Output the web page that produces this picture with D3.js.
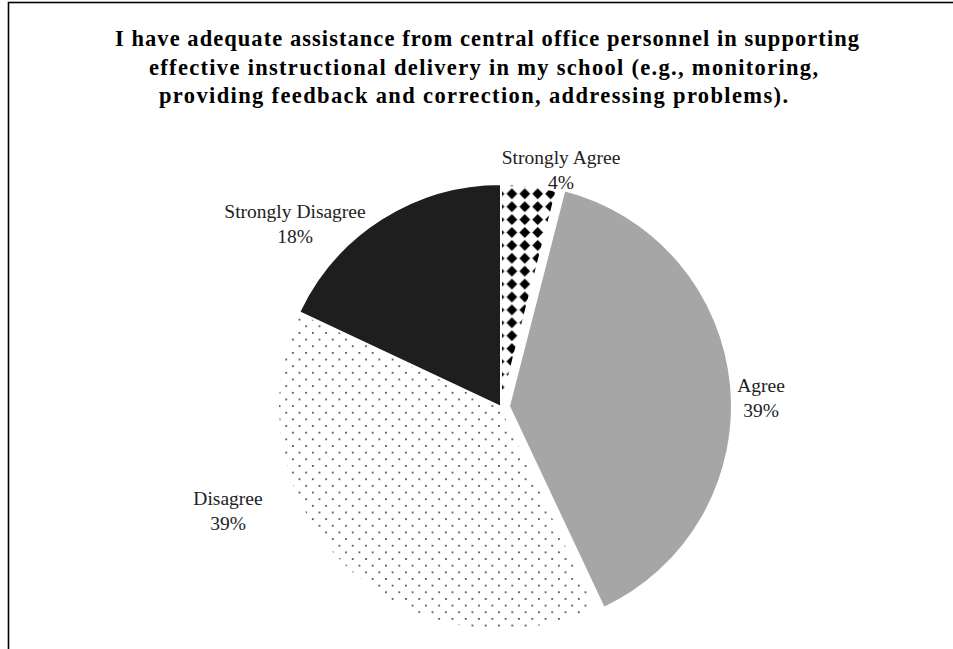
<!DOCTYPE html>
<html>
<head>
<meta charset="utf-8">
<script src="https://cdn.jsdelivr.net/npm/d3@7"></script>
<style>
  html, body { margin: 0; padding: 0; background: #fff; }
  svg { display: block; }
</style>
</head>
<body>
<svg id="chart" width="953" height="649"></svg>
<script>
// Survey responses
const categories = ["Strongly Agree", "Agree", "Disagree", "Strongly Disagree"];
const percentages = [4, 39, 39, 18];
const titleLines = [
  "I have adequate assistance from central office personnel in supporting",
  "effective  instructional delivery in my school (e.g., monitoring,",
  "providing feedback and correction, addressing problems)."
];

const svg = d3.select("#chart");
const W = 953, H = 649;
const cx = 501, cy = 407, radius = 223;

// Frame around the chart area
svg.append("rect")
  .attr("x", 8.5).attr("y", 2.5)
  .attr("width", W + 20).attr("height", H + 20)
  .attr("fill", "#fff").attr("stroke", "#000").attr("stroke-width", 1.6);

// Fill patterns
const defs = svg.append("defs");
const dSize = 12.9;
const diamond = defs.append("pattern")
  .attr("id", "diamonds").attr("patternUnits", "userSpaceOnUse")
  .attr("width", dSize).attr("height", dSize)
  .attr("x", 514 - dSize / 2).attr("y", 186.7 - dSize / 2);
diamond.append("rect").attr("width", dSize).attr("height", dSize).attr("fill", "#fff");
const h = dSize / 2, s = 5.4;
diamond.append("path")
  .attr("d", `M${h},${h - s} L${h + s},${h} L${h},${h + s} L${h - s},${h}Z`)
  .attr("fill", "#000");

const pSize = 13.3;
const dots = defs.append("pattern")
  .attr("id", "dots").attr("patternUnits", "userSpaceOnUse")
  .attr("width", pSize).attr("height", pSize)
  .attr("x", 303).attr("y", 324);
dots.append("rect").attr("width", pSize).attr("height", pSize).attr("fill", "#fff");
dots.append("rect").attr("x", 0).attr("y", 0).attr("width", 1.8).attr("height", 1.8).attr("fill", "#555");
dots.append("rect").attr("x", pSize / 2).attr("y", pSize / 2).attr("width", 1.8).attr("height", 1.8).attr("fill", "#555");

const fills = {
  "Strongly Agree": "url(#diamonds)",
  "Agree": "#a6a6a6",
  "Disagree": "url(#dots)",
  "Strongly Disagree": "#1e1e1e"
};
// Exploded slices (pixels pulled out along the slice's mid angle)
const explode = { "Agree": 8 };

const data = categories.map((c, i) => ({ category: c, value: percentages[i] }));
const pie = d3.pie().value(d => d.value).sort(null);
const arcs = pie(data);
const arc = d3.arc().innerRadius(0).outerRadius(radius);

const g = svg.append("g").attr("transform", `translate(${cx},${cy})`);
g.selectAll("path.slice")
  .data(arcs)
  .join("path")
  .attr("class", "slice")
  .attr("d", arc)
  .attr("transform", d => {
    const off = explode[d.data.category] || 0;
    const a = (d.startAngle + d.endAngle) / 2;
    return `translate(${off * Math.sin(a)},${-off * Math.cos(a)})`;
  })
  .attr("fill", d => fills[d.data.category])
  .attr("stroke", "#fff")
  .attr("stroke-width", 2)
  .attr("stroke-linejoin", "round");

// Data labels placed outside each slice
const labelOffset = {
  "Strongly Agree": [60, -232],
  "Agree": [260, -4],
  "Disagree": [-273, 109],
  "Strongly Disagree": [-206, -178]
};
const lab = g.selectAll("text.label")
  .data(arcs)
  .join("text")
  .attr("class", "label")
  .attr("text-anchor", "middle")
  .attr("font-family", "'Liberation Serif', 'Times New Roman', serif")
  .attr("font-size", 19.5)
  .attr("fill", "#222");
lab.append("tspan")
  .attr("x", d => labelOffset[d.data.category][0])
  .attr("y", d => labelOffset[d.data.category][1] - 11)
  .text(d => d.data.category);
lab.append("tspan")
  .attr("x", d => labelOffset[d.data.category][0])
  .attr("y", d => labelOffset[d.data.category][1] + 14)
  .text(d => d.data.value + "%");

// Title
const titleX = [115, 149, 159];
const titleLen = [744, 669, 629];
const titleY = [46, 75, 103];
svg.append("g").selectAll("text")
  .data(titleLines)
  .join("text")
  .attr("x", (d, i) => titleX[i])
  .attr("y", (d, i) => titleY[i])
  .attr("textLength", (d, i) => titleLen[i])
  .attr("lengthAdjust", "spacing")
  .attr("font-family", "'Liberation Serif', 'Times New Roman', serif")
  .attr("font-weight", "bold")
  .attr("font-size", 22.5)
  .attr("fill", "#000")
  .text(d => d);
</script>
</body>
</html>
